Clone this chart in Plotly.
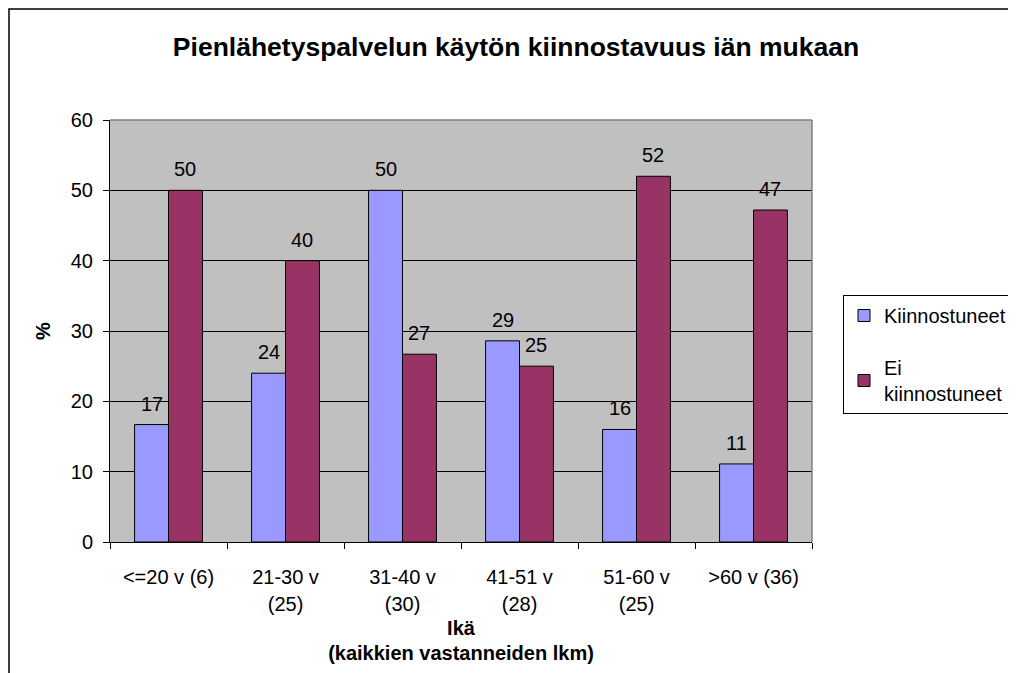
import plotly.graph_objects as go

categories = ["<=20 v (6)", "21-30 v (25)", "31-40 v (30)", "41-51 v (28)", "51-60 v (25)", ">60 v (36)"]
tick_line1 = ["<=20 v (6)", "21-30 v", "31-40 v", "41-51 v", "51-60 v", ">60 v (36)"]
tick_line2 = ["", "(25)", "(30)", "(28)", "(25)", ""]
kiinnostuneet = [16.7, 24.0, 50.0, 28.6, 16.0, 11.1]
ei_kiinnostuneet = [50.0, 40.0, 26.7, 25.0, 52.0, 47.2]
y_ticks = [0, 10, 20, 30, 40, 50, 60]

FONT = "Liberation Sans, Arial, sans-serif"
W, H = 1040, 673
OFF = 8  # page body margin
PL, PR, PT, PB = 110 - OFF, 812 - OFF, 120 - OFF, 542 - OFF
BARGAP = 0.42

fig = go.Figure()
fig.add_trace(go.Bar(
    x=categories, y=kiinnostuneet, name="Kiinnostuneet", legendgroup="a",
    marker=dict(color="#9999FF", line=dict(color="black", width=1)),
))
fig.add_trace(go.Bar(
    x=categories, y=ei_kiinnostuneet, name="Ei<br>kiinnostuneet", legendgroup="b",
    marker=dict(color="#993366", line=dict(color="black", width=1)),
))
# invisible helper trace so the second-line tick axis knows the categories
fig.add_trace(go.Scatter(
    x=categories, y=[0] * len(categories), xaxis="x2", yaxis="y",
    mode="markers", marker=dict(opacity=0), showlegend=False, hoverinfo="skip",
))

# data labels above the bars (rounded values)
half_bar = (PR - PL) / len(categories) * (1 - BARGAP) / 4
for series, sign in ((kiinnostuneet, -1), (ei_kiinnostuneet, 1)):
    for cat, val in zip(categories, series):
        fig.add_annotation(x=cat, y=val, xref="x", yref="y", text=f"{val:.0f}",
                           showarrow=False, xshift=sign * half_bar, yshift=8,
                           yanchor="bottom", font=dict(size=20, family=FONT, color="black"))

fig.update_layout(
    width=W, height=H,
    margin=dict(l=PL, r=W - PR, t=PT, b=H - PB),
    paper_bgcolor="white", plot_bgcolor="#C0C0C0",
    font=dict(family=FONT, size=16, color="black"),
    barmode="group", bargap=BARGAP, bargroupgap=0,
    title=dict(text="<b>Pienlähetyspalvelun käytön kiinnostavuus iän mukaan</b>",
               x=(516 - OFF) / W, xref="container", xanchor="center",
               y=1 - (47 - OFF) / H, yref="container", yanchor="middle",
               font=dict(size=26.5, family=FONT, color="black")),
    legend=dict(x=(843 - OFF) / W, xref="container", xanchor="left",
                y=1 - (295 - OFF) / H, yref="container", yanchor="top",
                bordercolor="black", borderwidth=1, bgcolor="white",
                font=dict(size=20, family=FONT), tracegroupgap=23, traceorder="grouped",
                itemwidth=30),
    showlegend=True,
)

fig.update_layout(
    xaxis=dict(
        tickvals=categories, ticktext=tick_line1,
        showline=True, linecolor="black", linewidth=1,
        ticks="outside", ticklen=6, tickcolor="black", tickson="boundaries",
        showgrid=False, ticklabelstandoff=17,
        title=dict(text="<b>Ikä</b>", font=dict(size=20, family=FONT), standoff=33),
        tickfont=dict(size=20, family=FONT),
    ),
    xaxis2=dict(
        overlaying="x", matches="x", anchor="y", side="bottom",
        tickvals=categories, ticktext=tick_line2,
        showline=False, ticks="", showgrid=False, zeroline=False,
        ticklabelstandoff=48, tickfont=dict(size=20, family=FONT),
        title=dict(text="<b>(kaikkien vastanneiden lkm)</b>", font=dict(size=20, family=FONT), standoff=31),
    ),
    yaxis=dict(
        range=[0, 60], tickvals=y_ticks, showline=True, linecolor="black", linewidth=1,
        ticks="outside", ticklen=6, tickcolor="black", ticklabelstandoff=6,
        showgrid=True, gridcolor="black", gridwidth=1, zeroline=False,
        title=dict(text="<b>%</b>", font=dict(size=20, family=FONT), standoff=14),
        tickfont=dict(size=20, family=FONT),
    ),
)

# gray plot-area edges (top and right)
fig.add_shape(type="line", xref="paper", yref="paper", x0=0, x1=1, y0=1, y1=1,
              line=dict(color="#808080", width=1.5), layer="above")
fig.add_shape(type="line", xref="paper", yref="paper", x0=1, x1=1, y0=0, y1=1,
              line=dict(color="#808080", width=1.5), layer="above")
# chart outer border
pw, ph = PR - PL, PB - PT
fig.add_shape(type="rect", xref="paper", yref="paper",
              x0=-(PL - 1) / pw, x1=1.6, y0=-0.6, y1=1 + (PT - 1) / ph,
              line=dict(color="black", width=1.5), layer="above")

fig.write_html("out.html")
